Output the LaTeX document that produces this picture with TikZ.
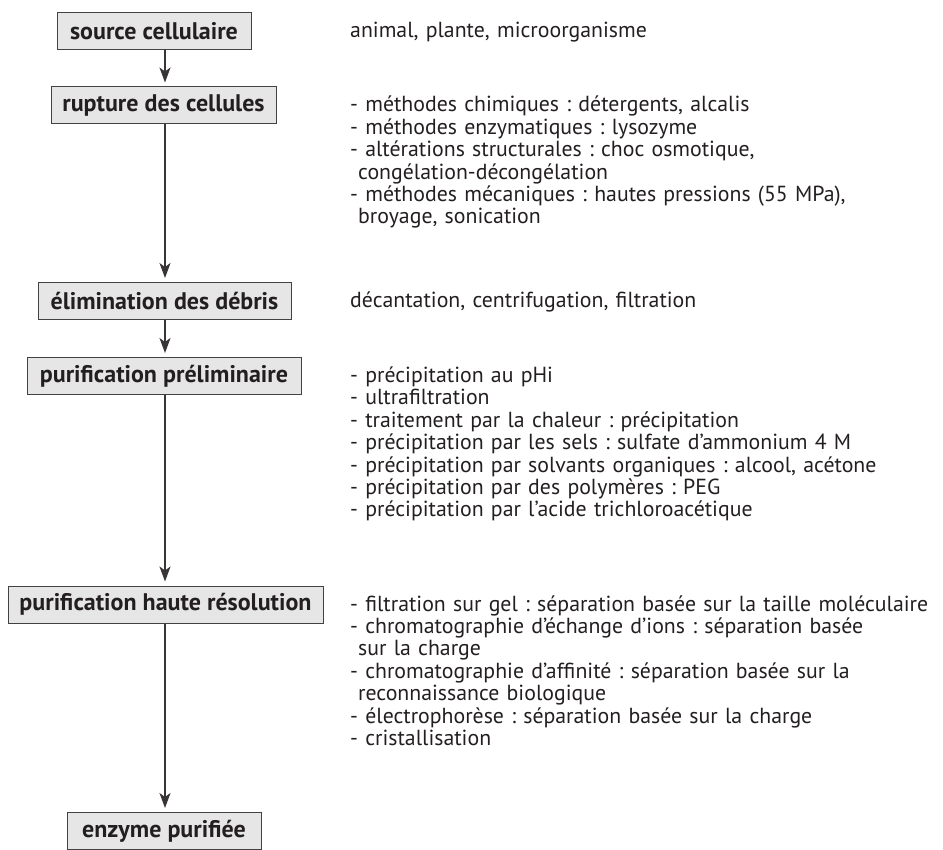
\documentclass[tikz,border=0pt]{standalone}
\usepackage{fontspec}
\setmainfont{PT Sans}
\usetikzlibrary{arrows.meta}
\definecolor{ink}{HTML}{231F20}
\definecolor{boxfill}{HTML}{E6E6E7}
\tikzset{
  stepbox/.style={draw=ink!85, line width=1pt, fill=boxfill, inner sep=0pt,
    font=\fontsize{24}{26}\selectfont\bfseries, text=ink, minimum height=37pt},
  listtext/.style={anchor=base west, align=left, inner sep=0pt, text=ink,
    font=\fontsize{21.8}{22.4}\selectfont\frenchspacing, text width=600pt},
  flow/.style={draw=ink!90, line width=1.2pt, -{Stealth[length=15pt,width=11pt,inset=4pt]}, shorten >=4pt}
}
\newcommand{\ind}{\hspace*{8pt}}
\begin{document}
\begin{tikzpicture}[x=1pt,y=-1pt]
\useasboundingbox (0,0) rectangle (943,850);
% boxes
\node[stepbox, minimum width=194pt] (s1) at (154,31.5) {source cellulaire};
\node[stepbox, minimum width=225pt] (s2) at (163.5,105.5) {rupture des cellules};
\node[stepbox, minimum width=253pt] (s3) at (164.5,301) {élimination des débris};
\node[stepbox, minimum width=274pt] (s4) at (164,376) {purification préliminaire};
\node[stepbox, minimum width=315pt] (s5) at (165.5,604.5) {purification haute résolution};
\node[stepbox, minimum width=194pt] (s6) at (164,831) {enzyme purifiée};
% arrows
\draw[flow] (s1.south -| 165,0) -- (s2.north -| 165,0);
\draw[flow] (s2.south -| 165,0) -- (s3.north -| 165,0);
\draw[flow] (s3.south -| 165,0) -- (s4.north -| 165,0);
\draw[flow] (s4.south -| 165,0) -- (s5.north -| 165,0);
\draw[flow] (s5.south -| 165,0) -- (s6.north -| 165,0);
% texts
\node[listtext] (t1) at (350,37.5) {animal, plante, microorganisme};
\node[listtext] (t2) at (350,112) {- méthodes chimiques : détergents, alcalis\\
- méthodes enzymatiques : lysozyme\\
- altérations structurales : choc osmotique,\\
\ind congélation-décongélation\\
- méthodes mécaniques : hautes pressions (55 MPa),\\
\ind broyage, sonication};
\node[listtext] (t3) at (350,307.5) {décantation, centrifugation, filtration};
\node[listtext] (t4) at (350,382.5) {- précipitation au pHi\\
- ultrafiltration\\
- traitement par la chaleur : précipitation\\
- précipitation par les sels : sulfate d’ammonium 4 M\\
- précipitation par solvants organiques : alcool, acétone\\
- précipitation par des polymères : PEG\\
- précipitation par l’acide trichloroacétique};
\node[listtext] (t5) at (350,611) {- filtration sur gel : séparation basée sur la taille moléculaire\\
- chromatographie d’échange d’ions : séparation basée\\
\ind sur la charge\\
- chromatographie d’affinité : séparation basée sur la\\
\ind reconnaissance biologique\\
- électrophorèse : séparation basée sur la charge\\
- cristallisation};
\end{tikzpicture}
\end{document}
